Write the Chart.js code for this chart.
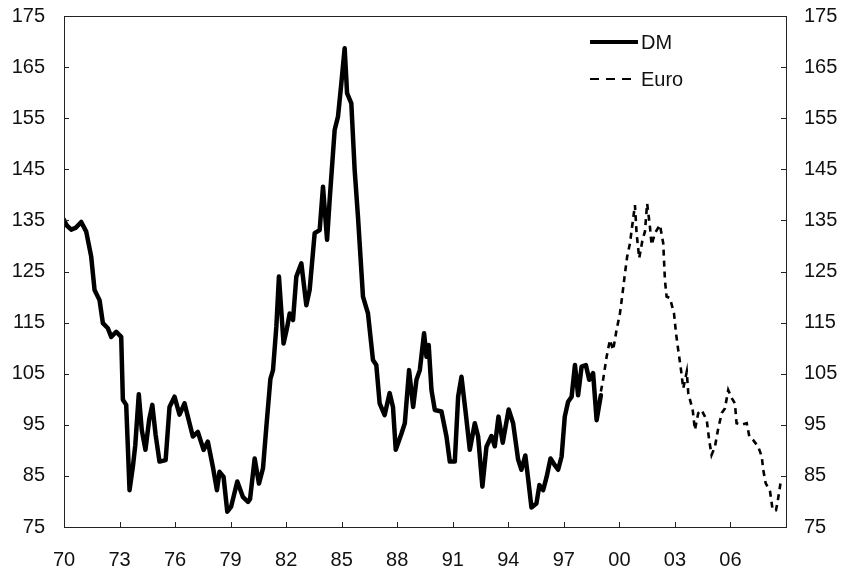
<!DOCTYPE html>
<html>
<head>
<meta charset="utf-8">
<script src="https://cdn.jsdelivr.net/npm/chart.js@4/dist/chart.umd.min.js"></script>
<style>
  html, body { margin: 0; padding: 0; background: #ffffff; }
  #wrap { width: 848px; height: 569px; position: relative; }
</style>
</head>
<body>
<div id="wrap"><canvas id="c"></canvas></div>
<script>
// ---- Data ----
const dmYears = [1970.0,1970.15,1970.39,1970.65,1970.93,1971.2,1971.47,1971.65,1971.92,1972.1,1972.37,1972.55,1972.82,1973.09,1973.18,1973.36,1973.54,1973.72,1973.85,1974.04,1974.2,1974.4,1974.6,1974.77,1974.95,1975.16,1975.49,1975.7,1975.97,1976.24,1976.51,1976.96,1977.23,1977.54,1977.77,1978.04,1978.26,1978.4,1978.62,1978.82,1979.03,1979.36,1979.66,1979.94,1980.05,1980.3,1980.53,1980.75,1980.93,1981.15,1981.29,1981.47,1981.61,1981.86,1982.05,1982.19,1982.37,1982.55,1982.82,1983.09,1983.27,1983.54,1983.81,1983.99,1984.21,1984.35,1984.62,1984.8,1984.98,1985.16,1985.29,1985.52,1985.7,1985.88,1986.15,1986.42,1986.69,1986.87,1987.05,1987.32,1987.59,1987.77,1987.92,1988.23,1988.41,1988.64,1988.86,1989.04,1989.22,1989.45,1989.58,1989.7,1989.85,1990.03,1990.39,1990.66,1990.84,1991.11,1991.29,1991.47,1991.7,1991.92,1992.19,1992.37,1992.6,1992.82,1993.09,1993.27,1993.47,1993.7,1994.02,1994.26,1994.53,1994.71,1994.92,1995.07,1995.25,1995.52,1995.68,1995.88,1996.07,1996.28,1996.51,1996.69,1996.88,1997.05,1997.23,1997.42,1997.6,1997.77,1997.96,1998.19,1998.37,1998.58,1998.77,1999.0];
const dmValues = [135.1,134.0,133.2,133.6,134.7,132.8,127.9,121.4,119.4,114.9,113.9,112.2,113.2,112.2,99.9,98.9,82.2,86.8,91.0,101.0,94.0,90.1,96.0,98.9,93.0,87.8,88.1,98.5,100.5,97.0,99.2,92.7,93.6,90.1,91.7,86.8,82.2,85.8,84.8,78.0,79.0,83.9,80.9,79.9,80.5,88.4,83.5,86.5,94.6,104.0,105.7,114.2,124.0,110.9,114.0,116.8,115.5,124.0,126.6,118.4,121.4,132.5,133.1,141.6,131.2,139.0,152.7,155.3,161.8,168.7,159.9,157.9,144.9,135.7,120.1,116.8,107.7,106.7,99.2,96.9,101.2,98.5,90.1,93.3,95.3,105.7,98.5,103.8,105.7,112.9,108.3,110.6,101.8,97.9,97.6,92.7,87.8,87.8,100.5,104.4,97.3,90.1,95.3,92.7,82.9,90.7,92.8,90.8,96.6,91.5,98.0,95.3,88.2,86.2,89.0,84.5,78.8,79.6,83.2,82.2,84.8,88.4,87.1,86.2,88.8,96.6,99.5,100.5,106.7,100.8,106.4,106.7,103.8,105.1,95.9,100.8];

const euroYears = [1999.0,1999.12,1999.31,1999.49,1999.66,1999.85,2000.03,2000.17,2000.3,2000.42,2000.57,2000.71,2000.84,2000.93,2001.07,2001.25,2001.38,2001.5,2001.65,2001.74,2001.92,2002.19,2002.37,2002.46,2002.55,2002.73,2002.95,2003.06,2003.18,2003.33,2003.45,2003.64,2003.72,2003.96,2004.08,2004.26,2004.44,2004.72,2004.85,2004.98,2005.16,2005.34,2005.53,2005.7,2005.88,2006.07,2006.24,2006.33,2006.6,2006.88,2007.02,2007.23,2007.5,2007.69,2007.77,2007.9,2008.14,2008.28,2008.46,2008.55,2008.7];
const euroValues = [101.5,103.8,108.3,111.6,109.6,113.6,116.8,120.7,124.6,127.9,130.5,134.4,138.0,132.5,127.6,131.2,132.8,138.3,133.8,130.2,132.5,134.1,130.5,123.3,120.1,119.8,116.8,112.9,109.6,105.7,102.1,105.4,101.2,97.9,94.0,97.3,97.9,95.9,92.0,89.1,90.7,94.3,97.3,98.2,101.8,100.2,99.2,95.3,95.0,95.3,92.7,92.0,90.7,88.8,86.2,83.6,81.9,78.3,78.3,80.0,83.5];

const seriesNames = ["DM", "Euro"];
const xTickYears = [1970,1973,1976,1979,1982,1985,1988,1991,1994,1997,2000,2003,2006];
const yTickValues = [75,85,95,105,115,125,135,145,155,165,175];

// ---- Chart ----
const FONT = { family: "'Liberation Sans', Arial, Helvetica, sans-serif", size: 20 };
const toPts = (xs, ys) => xs.map((x, i) => ({ x: x, y: ys[i] }));

const framePlugin = {
  id: 'frame',
  afterDraw(chart) {
    const ctx = chart.ctx;
    const a = chart.chartArea;
    const xs = chart.scales.x, yl = chart.scales.y, yr = chart.scales.y2;
    ctx.save();
    ctx.strokeStyle = '#222';
    ctx.lineWidth = 1;
    ctx.strokeRect(Math.round(a.left) + 0.5, Math.round(a.top) + 0.5,
                   Math.round(a.right - a.left), Math.round(a.bottom - a.top));
    ctx.beginPath();
    xTickYears.forEach(v => {
      const px = Math.round(xs.getPixelForValue(v)) + 0.5;
      ctx.moveTo(px, a.bottom); ctx.lineTo(px, a.bottom - 5);
    });
    yTickValues.forEach(v => {
      const py = Math.round(yl.getPixelForValue(v)) + 0.5;
      ctx.moveTo(a.left, py); ctx.lineTo(a.left + 5, py);
      const py2 = Math.round(yr.getPixelForValue(v)) + 0.5;
      ctx.moveTo(a.right, py2); ctx.lineTo(a.right - 5, py2);
    });
    ctx.stroke();

    // legend inside the plot
    const lx0 = a.right - 196, lx1 = a.right - 148, tx = a.right - 145;
    const ly1 = a.top + 26, ly2 = a.top + 63;
    ctx.strokeStyle = '#000';
    ctx.lineWidth = 4;
    ctx.setLineDash([]);
    ctx.beginPath(); ctx.moveTo(lx0, ly1); ctx.lineTo(lx1, ly1); ctx.stroke();
    ctx.lineWidth = 2;
    ctx.setLineDash([9, 7]);
    ctx.beginPath(); ctx.moveTo(lx0, ly2); ctx.lineTo(lx1, ly2); ctx.stroke();
    ctx.setLineDash([]);
    ctx.fillStyle = '#111';
    ctx.font = FONT.size + 'px ' + FONT.family;
    ctx.textBaseline = 'middle';
    ctx.textAlign = 'left';
    ctx.fillText(seriesNames[0], tx, ly1 + 1);
    ctx.fillText(seriesNames[1], tx, ly2 + 1);
    ctx.restore();
  }
};

new Chart(document.getElementById('c'), {
  type: 'line',
  data: {
    datasets: [
      {
        label: seriesNames[0],
        data: toPts(dmYears, dmValues),
        borderColor: '#000',
        borderWidth: 4.5,
        pointRadius: 0,
        tension: 0,
        fill: false,
        yAxisID: 'y',
        borderJoinStyle: 'round',
        borderCapStyle: 'round'
      },
      {
        label: seriesNames[1],
        data: toPts(euroYears, euroValues),
        borderColor: '#000',
        borderWidth: 2.6,
        borderDash: [6, 5],
        pointRadius: 0,
        tension: 0,
        fill: false,
        yAxisID: 'y'
      }
    ]
  },
  options: {
    responsive: true,
    maintainAspectRatio: false,
    animation: false,
    devicePixelRatio: 1,
    layout: { padding: { top: 16, left: 0, right: 0, bottom: 0 } },
    plugins: { legend: { display: false }, tooltip: { enabled: false } },
    scales: {
      x: {
        type: 'linear',
        min: 1970, max: 2009,
        afterBuildTicks: s => { s.ticks = xTickYears.map(v => ({ value: v })); },
        afterFit: s => { s.height = 42; s.paddingLeft = 0; s.paddingRight = 0; },
        grid: { display: false, drawTicks: false },
        border: { display: false },
        ticks: {
          font: FONT, color: '#111', padding: 21, maxRotation: 0, autoSkip: false,
          callback: v => String(v % 100).padStart(2, '0')
        }
      },
      y: {
        position: 'left',
        min: 75, max: 175,
        afterBuildTicks: s => { s.ticks = yTickValues.map(v => ({ value: v })); },
        afterFit: s => { s.width = 64; s.paddingTop = 0; s.paddingBottom = 0; },
        grid: { display: false, drawTicks: false },
        border: { display: false },
        ticks: { font: FONT, color: '#111', padding: 19 }
      },
      y2: {
        position: 'right',
        min: 75, max: 175,
        afterBuildTicks: s => { s.ticks = yTickValues.map(v => ({ value: v })); },
        afterFit: s => { s.width = 62; s.paddingTop = 0; s.paddingBottom = 0; },
        grid: { display: false, drawTicks: false },
        border: { display: false },
        ticks: { font: FONT, color: '#111', padding: 18 }
      }
    }
  },
  plugins: [framePlugin]
});
</script>
</body>
</html>
